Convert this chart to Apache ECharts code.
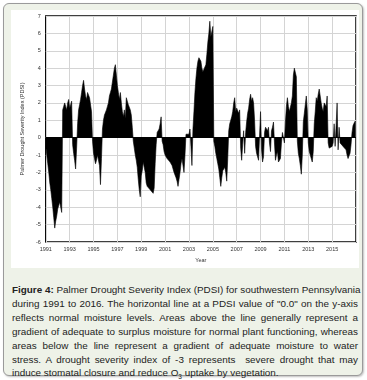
<!DOCTYPE html>
<html><head><meta charset="utf-8">
<script src="https://cdn.jsdelivr.net/npm/echarts@6/dist/echarts.min.js"></script>
<style>
html,body{margin:0;padding:0;width:367px;height:380px;background:#fff;overflow:hidden;}
#frame{position:absolute;left:3px;top:3px;width:358px;height:371px;border:1px solid #9a9a9a;border-radius:6px;background:#eef2e8;box-shadow:1px 1px 2px rgba(0,0,0,0.25);}
#chart{position:absolute;left:11px;top:10px;width:348px;height:258px;background:#fff;}
#cap{position:absolute;left:12px;top:283px;width:346px;font-family:"Liberation Sans",Arial,sans-serif;font-size:9.9px;line-height:13.9px;color:#222;}
#cap div{text-align:justify;text-align-last:justify;white-space:nowrap;}
#cap div.last{text-align-last:left;}
</style></head>
<body>
<div id="frame"></div>
<div id="chart"></div>
<div id="cap">
<div><b>Figure 4:</b> Palmer Drought Severity Index (PDSI) for southwestern Pennsylvania</div>
<div>during 1991 to 2016. The horizontal line at a PDSI value of "0.0" on the y-axis</div>
<div>reflects normal moisture levels. Areas above the line generally represent a</div>
<div>gradient of adequate to surplus moisture for normal plant functioning, whereas</div>
<div>areas below the line represent a gradient of adequate moisture to water</div>
<div>stress. A drought severity index of -3 represents &nbsp;severe drought that may</div>
<div class="last">induce stomatal closure and reduce O<sub style="font-size:6.5px;line-height:0">3</sub> uptake by vegetation.</div>
</div>
<script>
// Monthly PDSI values (Jan..Dec) per year
const years = [1991,1992,1993,1994,1995,1996,1997,1998,1999,2000,2001,2002,2003,2004,2005,2006,2007,2008,2009,2010,2011,2012,2013,2014,2015,2016];
const pdsi1991 = [-0.5,-1.0,-1.5,-2.0,-2.6,-3.0,-3.5,-4.0,-4.6,-5.2,-4.8,-4.5];
const pdsi1992 = [-4.1,-4.0,-3.7,-3.8,-4.3,1.6,1.8,2.0,1.8,1.6,2.0,2.2];
const pdsi1993 = [1.7,1.9,2.1,-0.4,-0.9,-1.3,-1.8,-0.6,0.8,1.6,1.9,2.2];
const pdsi1994 = [2.6,3.0,3.3,2.8,2.4,2.2,2.6,2.7,2.3,2.2,1.5,-0.2];
const pdsi1995 = [-0.9,-1.2,-1.5,-1.3,-1.0,-1.1,-1.6,-2.7,-1.2,0.5,1.0,1.3];
const pdsi1996 = [1.4,1.6,1.8,2.0,2.4,2.6,2.8,3.2,3.6,4.0,4.2,3.6];
const pdsi1997 = [3.0,2.6,2.2,2.6,2.0,1.5,1.2,1.6,1.1,2.3,2.1,1.9];
const pdsi1998 = [1.8,1.6,1.3,0.6,-0.2,-0.6,-1.0,-1.3,-1.7,-2.4,-3.0,-3.4];
const pdsi1999 = [-2.2,-1.9,-1.4,-1.3,-2.0,-2.6,-2.8,-2.9,-2.9,-3.0,-2.9,-3.1];
const pdsi2000 = [-3.2,-2.9,-1.5,-0.4,0.3,0.4,0.5,0.8,1.2,-0.2,-0.4,-0.8];
const pdsi2001 = [-1.0,-1.1,-1.2,-1.2,-1.3,-1.4,-1.5,-1.6,-1.8,-2.0,-2.1,-2.3];
const pdsi2002 = [-2.5,-2.8,-2.4,-2.0,-1.5,-1.2,-1.1,-2.0,-1.0,0.2,0.2,0.3];
const pdsi2003 = [0.2,0.5,-0.5,-1.6,0.5,1.5,2.6,3.4,4.0,4.4,4.6,4.7];
const pdsi2004 = [4.4,4.0,3.8,3.8,3.9,4.2,4.8,5.5,6.0,6.7,5.8,5.9];
const pdsi2005 = [6.4,-0.2,-0.5,-0.9,-1.2,-1.5,-1.8,-2.3,-2.8,-2.3,-1.9,-1.8];
const pdsi2006 = [-1.7,-2.0,-2.5,-1.2,0.4,0.8,1.0,1.2,1.5,2.0,2.3,1.5];
const pdsi2007 = [1.7,1.6,1.4,1.6,-0.6,-1.3,-0.4,0.4,-0.9,0.3,0.9,1.4];
const pdsi2008 = [1.7,2.2,2.5,2.1,2.3,2.0,1.0,-0.5,-0.9,-1.1,-1.3,-1.4];
const pdsi2009 = [1.5,-0.7,-1.4,-1.1,0.3,0.6,0.7,0.4,0.6,-0.3,-0.8,0.4];
const pdsi2010 = [0.6,0.9,-0.3,-1.3,-1.0,-0.8,-1.4,-1.5,-1.2,-0.3,0.3,0.2];
const pdsi2011 = [-0.3,0.9,1.8,2.3,1.8,1.5,1.6,2.0,2.4,3.6,4.0,3.9];
const pdsi2012 = [3.5,-0.2,-0.9,-1.2,-1.6,-2.1,-1.0,0.9,1.4,1.9,2.4,1.6];
const pdsi2013 = [-0.3,-0.8,-1.0,-1.1,-1.4,-0.8,0.8,1.5,2.3,2.1,2.5,2.8];
const pdsi2014 = [2.4,2.0,1.7,1.5,2.0,1.9,1.8,2.4,-0.3,-0.6,-0.5,-0.6];
const pdsi2015 = [-0.5,-0.3,0.8,-0.5,0.7,2.0,-0.7,0.6,-0.3,-0.3,-0.4,-0.5];
const pdsi2016 = [-0.6,-0.6,-0.7,-1.0,-1.2,-1.3,-0.9,-0.4,0.3,0.7,0.8,0.95];
const tickLabels = ['1991','1993','1995','1997','1999','2001','2003','2005','2007','2009','2011','2013','2015'];
const yTicks = [-6,-5,-4,-3,-2,-1,0,1,2,3,4,5,6,7];

const byYear = [pdsi1991,pdsi1992,pdsi1993,pdsi1994,pdsi1995,pdsi1996,pdsi1997,pdsi1998,pdsi1999,pdsi2000,pdsi2001,pdsi2002,pdsi2003,pdsi2004,pdsi2005,pdsi2006,pdsi2007,pdsi2008,pdsi2009,pdsi2010,pdsi2011,pdsi2012,pdsi2013,pdsi2014,pdsi2015,pdsi2016];
const points = [];
byYear.forEach((arr, yi) => arr.forEach((v, m) => points.push([years[yi] + m / 12, v])));

const chart = echarts.init(document.getElementById('chart'), null, {renderer: 'canvas'});
const lblFont = {fontFamily: '"Liberation Sans", Arial, sans-serif', fontSize: 5.5, color: '#333'};
chart.setOption({
  animation: false,
  backgroundColor: '#fff',
  grid: {left: 22, top: 6, width: 325, height: 232, show: true, borderColor: '#000', borderWidth: 1.5, backgroundColor: 'transparent'},
  xAxis: {
    type: 'value', min: 1991, max: 2017, interval: 2,
    name: 'Year', nameLocation: 'middle', nameGap: 15,
    nameTextStyle: lblFont,
    axisLine: {show: false}, axisTick: {show: false},
    axisLabel: Object.assign({margin: 4, formatter: v => tickLabels.indexOf(String(v)) >= 0 ? String(v) : ''}, lblFont),
    splitLine: {show: true, lineStyle: {color: '#d4d4d4', width: 1}}
  },
  yAxis: {
    type: 'value', min: yTicks[0], max: yTicks[yTicks.length - 1], interval: 1,
    name: 'Palmer Drought Severity Index (PDSI)', nameLocation: 'middle', nameGap: 14, nameRotate: 90,
    nameTextStyle: lblFont,
    axisLine: {show: false}, axisTick: {show: false},
    axisLabel: Object.assign({margin: 5}, lblFont),
    splitLine: {show: true, lineStyle: {color: '#d4d4d4', width: 1}}
  },
  series: [{
    type: 'line', data: points, showSymbol: false, symbol: 'none',
    lineStyle: {color: '#000', width: 0.6},
    areaStyle: {color: '#000', opacity: 1},
    markLine: {silent: true, symbol: 'none', label: {show: false}, lineStyle: {color: '#000', width: 1, type: 'solid'}, data: [{yAxis: 0}]}
  }]
});
</script>
</body></html>
